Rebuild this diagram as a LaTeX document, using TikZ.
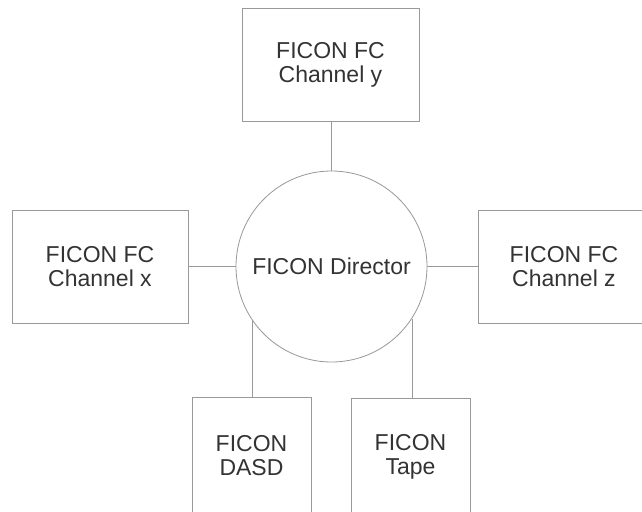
\documentclass[tikz,border=0pt]{standalone}
\usepackage{fontspec}
\setmainfont{Liberation Sans}
\definecolor{lineg}{HTML}{999999}
\definecolor{txt}{HTML}{333333}
\begin{document}
\begin{tikzpicture}[x=1pt,y=-1pt,
  linec/.style={draw=lineg, line width=0.8pt},
  box/.style={linec, fill=white, rectangle, inner sep=0pt, align=center, text=txt,
    font=\fontsize{23}{24}\selectfont},
  circ/.style={linec, fill=white, circle, inner sep=0pt, minimum size=191pt, text=txt,
    font=\fontsize{23}{24}\selectfont}]
\useasboundingbox (0,0) rectangle (642,511);
\clip (0,0) rectangle (642,511);
\fill[white] (0,0) rectangle (642,511);
\node[circ] (dir) at (331.5,266.5) {FICON Director};
\node[box, minimum width=177pt, minimum height=113pt] (top) at (330.5,64.5) {FICON FC\\Channel y};
\node[box, minimum width=176pt, minimum height=113pt] (left) at (100,266.5) {FICON FC\\Channel x};
\node[box, minimum width=172pt, minimum height=113pt] (right) at (564,266.5) {FICON FC\\Channel z};
\node[box, minimum width=119pt, minimum height=118pt] (dasd) at (251.5,456) {FICON\\DASD};
\node[box, minimum width=119pt, minimum height=117pt] (tape) at (410.5,456.5) {FICON\\Tape};
\draw[linec] (dir.north) -- (dir.north |- top.south);
\draw[linec] (left.east) -- (dir.west);
\draw[linec] (dir.east) -- (right.west);
\draw[linec] (dir.214.7) -- (dir.214.7 |- dasd.north);
\draw[linec] (dir.327.5) -- (dir.327.5 |- tape.north);
\end{tikzpicture}
\end{document}
